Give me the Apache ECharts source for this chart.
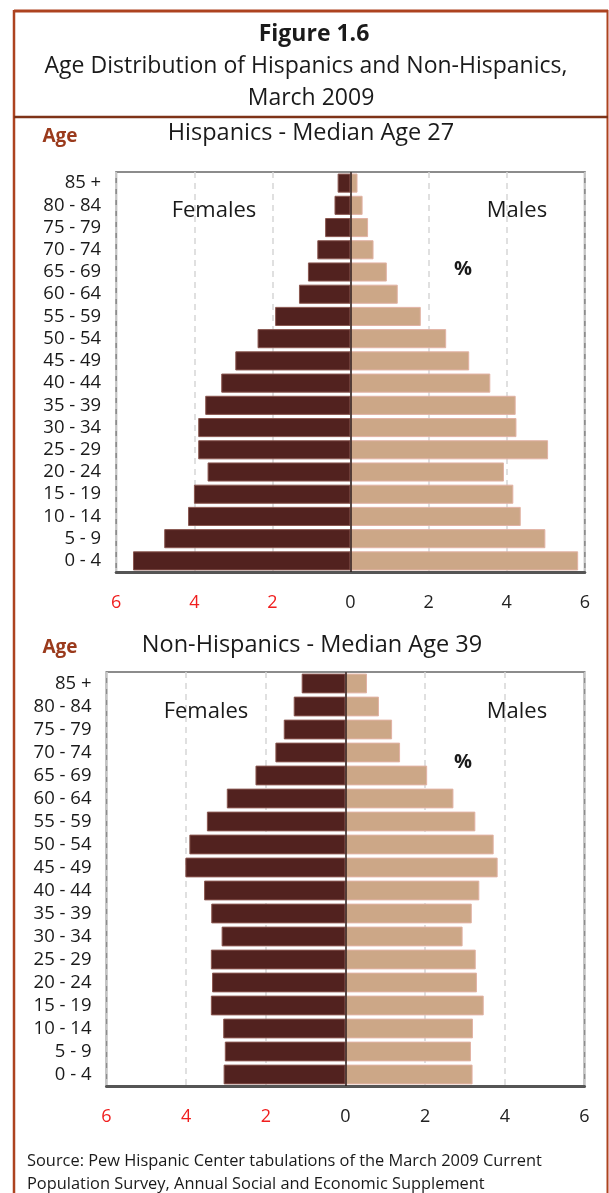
<!DOCTYPE html>
<html>
<head>
<meta charset="utf-8">
<script src="https://cdn.jsdelivr.net/npm/echarts@6/dist/echarts.min.js"></script>
<style>
html,body{margin:0;padding:0;background:#fff;}
#chart{width:609px;height:1193px;}
</style>
</head>
<body>
<div id="chart"></div>
<script>
// ---- data ----
const ageGroups = ['0 - 4','5 - 9','10 - 14','15 - 19','20 - 24','25 - 29','30 - 34','35 - 39','40 - 44','45 - 49','50 - 54','55 - 59','60 - 64','65 - 69','70 - 74','75 - 79','80 - 84','85 +'];
const hispFemales = [5.57,4.77,4.16,4.01,3.66,3.90,3.90,3.72,3.31,2.95,2.38,1.93,1.32,1.09,0.85,0.65,0.41,0.33];
const hispMales   = [5.83,4.99,4.36,4.17,3.93,5.06,4.25,4.23,3.58,3.04,2.45,1.80,1.21,0.93,0.59,0.45,0.31,0.18];
const nonHispFemales = [3.06,3.03,3.07,3.38,3.35,3.38,3.11,3.37,3.55,4.02,3.92,3.48,2.98,2.26,1.76,1.55,1.30,1.10];
const nonHispMales   = [3.19,3.15,3.20,3.47,3.30,3.27,2.94,3.17,3.36,3.82,3.72,3.26,2.71,2.05,1.37,1.17,0.84,0.54];
const axisMin = -6, axisMax = 6, axisStep = 2;

const titleLines = ['Figure 1.6','Age Distribution of Hispanics and Non-Hispanics,','March 2009'];
const panelTitles = ['Hispanics - Median Age 27','Non-Hispanics - Median Age 39'];
const sourceLines = ['Source: Pew Hispanic Center tabulations of the March 2009 Current','Population Survey, Annual Social and Economic Supplement'];

const FONT = '"Open Sans", "Noto Sans", sans-serif';
const FEMALE = '#52221f', MALE = '#cca787';
const chart = echarts.init(document.getElementById('chart'), null, {renderer:'canvas'});

const grids = [
  {left:116.2, right:24.2, top:172, height:400, show:true, borderColor:'#8c8c8c', borderWidth:2},
  {left:106.5, right:24.5, top:672, height:414, show:true, borderColor:'#8c8c8c', borderWidth:2}
];

function xAxisFor(i){
  return {
    type:'value', gridIndex:i, min:axisMin, max:axisMax, interval:axisStep,
    axisLine:{show:true, onZero:false, lineStyle:{color:'#555', width:3}},
    axisTick:{show:false},
    splitLine:{show:true, lineStyle:{color:'#d6d6d6', width:1.5, type:[6,5]}},
    axisLabel:{
      margin:22, fontFamily:FONT, fontSize:18,
      formatter:function(v){ return v < 0 ? '{r|' + Math.abs(v) + '}' : '{k|' + v + '}'; },
      rich:{ r:{color:'#f01e1e', fontFamily:FONT, fontSize:18}, k:{color:'#222', fontFamily:FONT, fontSize:18} }
    }
  };
}
function yAxisFor(i){
  return {
    type:'category', gridIndex:i, data:ageGroups,
    axisLine:{show:false}, axisTick:{show:false}, splitLine:{show:false},
    axisLabel:{interval:0, margin:15, fontFamily:FONT, fontSize:18.5, color:'#1a1a1a', lineHeight:18}
  };
}
function seriesFor(i, fem, mal){
  return [
    {type:'bar', xAxisIndex:i, yAxisIndex:i, data:fem.map(v=>-v), barWidth:'86%', barGap:'-100%',
     itemStyle:{color:FEMALE, borderColor:'#8a5750', borderWidth:1}, silent:true},
    {type:'bar', xAxisIndex:i, yAxisIndex:i, data:mal, barWidth:'86%', barGap:'-100%',
     itemStyle:{color:MALE, borderColor:'#e2b2a4', borderWidth:1}, silent:true,
     markLine:{silent:true, symbol:'none', label:{show:false},
       lineStyle:{color:'#2a1816', width:1.5, type:'solid'}, data:[{xAxis:0}]}}
  ];
}

function txt(x, y, text, opts){
  return {type:'text', x:x, y:y, silent:true, z:10,
    style:Object.assign({text:text, fontFamily:FONT, fontSize:22, fill:'#1a1a1a', textAlign:'center', textVerticalAlign:'middle'}, opts||{})};
}
const BORDER = '#ad4320';
const graphics = [
  {type:'line', shape:{x1:14, y1:11, x2:608, y2:11}, style:{stroke:BORDER, lineWidth:3}, silent:true},
  {type:'line', shape:{x1:14, y1:10, x2:14, y2:1193}, style:{stroke:BORDER, lineWidth:2.5}, silent:true},
  {type:'line', shape:{x1:607.5, y1:10, x2:607.5, y2:1193}, style:{stroke:BORDER, lineWidth:2}, silent:true},
  {type:'line', shape:{x1:14, y1:117, x2:608, y2:117}, style:{stroke:'#7e3318', lineWidth:2.5}, silent:true},
  txt(314, 34, titleLines[0], {fontWeight:'bold', fontSize:23}),
  txt(306, 66, titleLines[1], {fontSize:23}),
  txt(311, 98, titleLines[2], {fontSize:23}),
  txt(60, 137, 'Age', {fontWeight:'bold', fontSize:19, fill:'#9a3a1c'}),
  txt(311, 133, panelTitles[0], {fontSize:23.5}),
  txt(214, 211, 'Females'),
  txt(517, 211, 'Males'),
  txt(463, 269, '%', {fontWeight:'bold', fontSize:20}),
  txt(60, 648, 'Age', {fontWeight:'bold', fontSize:19, fill:'#9a3a1c'}),
  txt(312, 645, panelTitles[1], {fontSize:23.5}),
  txt(206, 712, 'Females'),
  txt(517, 712, 'Males'),
  txt(463, 762, '%', {fontWeight:'bold', fontSize:20}),
  txt(27, 1161, sourceLines[0], {fontSize:16.4, textAlign:'left'}),
  txt(27, 1184, sourceLines[1], {fontSize:16.4, textAlign:'left'})
];

chart.setOption({
  animation:false,
  backgroundColor:'#fff',
  grid:grids,
  xAxis:[xAxisFor(0), xAxisFor(1)],
  yAxis:[yAxisFor(0), yAxisFor(1)],
  series:[].concat(seriesFor(0, hispFemales, hispMales), seriesFor(1, nonHispFemales, nonHispMales)),
  graphic:graphics
});
</script>
</body>
</html>
